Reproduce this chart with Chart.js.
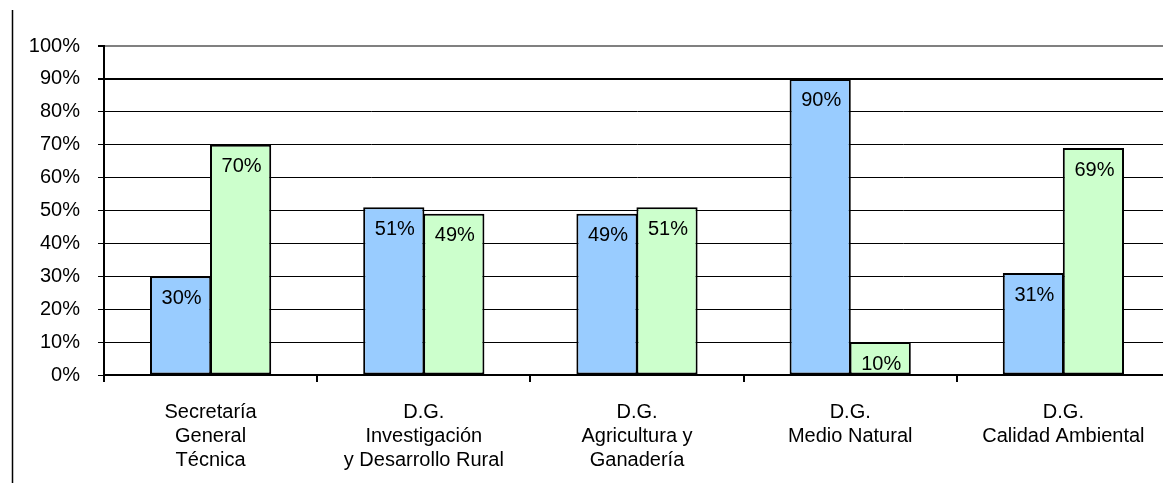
<!DOCTYPE html>
<html>
<head>
<meta charset="utf-8">
<script src="https://cdn.jsdelivr.net/npm/chart.js@4/dist/chart.umd.min.js"></script>
<style>
  body { margin: 0; background: #fff; overflow: hidden; }
  #wrap { width: 1170px; height: 483px; }
</style>
</head>
<body>
<div id="wrap"><canvas id="barChart" width="1170" height="483"></canvas></div>
<script>
// categories and values
var categories = [
    ['Secretaría', 'General', 'Técnica'],
    ['D.G.', 'Investigación', 'y Desarrollo Rural'],
    ['D.G.', 'Agricultura y', 'Ganadería'],
    ['D.G.', 'Medio Natural'],
    ['D.G.', 'Calidad Ambiental']
];
var blueValues = [30, 51, 49, 90, 31];
var greenValues = [70, 49, 51, 10, 69];
var blueLabels = ['30%', '51%', '49%', '90%', '31%'];
var greenLabels = ['70%', '49%', '51%', '10%', '69%'];

var fontFamily = '"Liberation Sans", Arial, sans-serif';

// labels inside the top of each bar
var barLabels = {
    id: 'barLabels',
    afterDatasetsDraw: function(chart) {
        var ctx = chart.ctx;
        var texts = [blueLabels, greenLabels];
        ctx.save();
        ctx.font = '20px ' + fontFamily;
        ctx.fillStyle = '#000';
        ctx.textAlign = 'center';
        ctx.textBaseline = 'middle';
        chart.data.datasets.forEach(function(ds, i) {
            chart.getDatasetMeta(i).data.forEach(function(bar, j) {
                ctx.fillText(texts[i][j], bar.x + 1, bar.y + 22);
            });
        });
        ctx.restore();
    }
};

// left frame line of the chart box
var frameLine = {
    id: 'frameLine',
    beforeDraw: function(chart) {
        var ctx = chart.ctx;
        ctx.save();
        ctx.strokeStyle = '#000';
        ctx.lineWidth = 1.5;
        ctx.beginPath();
        ctx.moveTo(12.5, 10);
        ctx.lineTo(12.5, 483);
        ctx.stroke();
        ctx.restore();
    }
};

var ctx = document.getElementById('barChart').getContext('2d');
var barChart = new Chart(ctx, {
    type: 'bar',
    data: {
        labels: categories,
        datasets: [{
            data: blueValues,
            backgroundColor: '#99CCFF',
            borderColor: '#000',
            borderWidth: 2,
            borderSkipped: false
        }, {
            data: greenValues,
            backgroundColor: '#CCFFCC',
            borderColor: '#000',
            borderWidth: 2,
            borderSkipped: false
        }]
    },
    options: {
        responsive: false,
        animation: false,
        layout: { padding: { top: 46, right: 0, bottom: 0, left: 0 } },
        datasets: {
            bar: { categoryPercentage: 0.563, barPercentage: 1.02 }
        },
        plugins: {
            legend: { display: false },
            tooltip: { enabled: false }
        },
        scales: {
            x: {
                grid: {
                    offset: true,
                    drawOnChartArea: false,
                    color: '#000',
                    tickLength: 7,
                    lineWidth: 2
                },
                border: { color: '#000', width: 2 },
                ticks: {
                    color: '#000',
                    padding: 18,
                    maxRotation: 0,
                    font: { family: fontFamily, size: 20, lineHeight: 1.2 }
                },
                afterFit: function(axis) { axis.height = 108; }
            },
            y: {
                min: 0,
                max: 100,
                ticks: {
                    stepSize: 10,
                    color: '#000',
                    padding: 18,
                    font: { family: fontFamily, size: 20 },
                    callback: function(v) { return v + '%'; }
                },
                grid: {
                    color: function(c) { return c.tick && c.tick.value === 100 ? '#808080' : '#000'; },
                    tickColor: '#000',
                    lineWidth: function(c) { return c.tick && c.tick.value >= 90 ? 2 : 1; },
                    tickLength: 6
                },
                border: { color: '#000', width: 2 },
                afterFit: function(axis) { axis.width = 104; }
            }
        }
    },
    plugins: [barLabels, frameLine]
});
</script>
</body>
</html>
